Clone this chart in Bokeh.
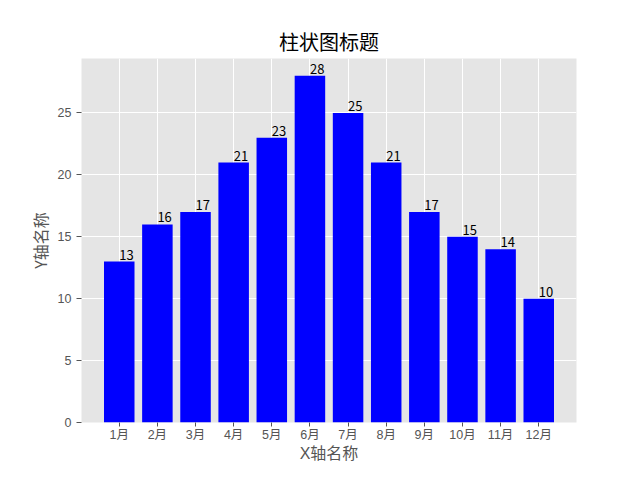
from bokeh.plotting import figure
from bokeh.models import Range1d, FixedTicker, ColumnDataSource
from bokeh.embed import file_html
from bokeh.resources import INLINE
from bokeh.core.properties import value

months = ["1月", "2月", "3月", "4月", "5月", "6月", "7月", "8月", "9月", "10月", "11月", "12月"]
counts = [13, 16, 17, 21, 23, 28, 25, 21, 17, 15, 14, 10]
y_ticks = [0, 5, 10, 15, 20, 25]

FONT = "Noto Sans CJK SC"
TIGHT = "'Liberation Sans', 'Noto Sans CJK SC'"
GRAY = "#555555"

xs = list(range(len(months)))
src = ColumnDataSource(dict(x=xs, top=counts, label=[str(c) for c in counts]))

n = len(months)
pad = (n - 1 + 0.8) * 0.05
ymax = max(counts) * 1.05
p = figure(width=624, height=464, output_backend="svg", toolbar_location=None,
           x_range=Range1d(-0.4 - pad, n - 1 + 0.4 + pad),
           y_range=Range1d(0, ymax),
           title="柱状图标题")
p.min_border_left = 81
p.min_border_right = 48
p.min_border_top = 58
p.min_border_bottom = 38

p.title.align = "center"
p.title.text_font = FONT
p.title.text_font_size = "20px"
p.title.text_font_style = "normal"
p.title.text_color = "black"
p.title.standoff = 5

p.background_fill_color = "#E5E5E5"
p.border_fill_color = "white"
p.outline_line_color = None

p.xaxis.ticker = FixedTicker(ticks=xs)
p.xaxis.major_label_overrides = {i: m for i, m in enumerate(months)}
p.yaxis.ticker = FixedTicker(ticks=y_ticks)

for ax in (p.xaxis, p.yaxis):
    ax.axis_line_color = None
    ax.major_tick_line_color = GRAY
    ax.major_tick_in = 0
    ax.major_tick_out = 4
    ax.minor_tick_line_color = None
    ax.major_label_text_color = GRAY
    ax.major_label_text_font = TIGHT
    ax.major_label_text_font_size = "12.5px"
    ax.major_label_text_line_height = 1.0
    ax.axis_label_text_color = GRAY
    ax.axis_label_text_font = TIGHT
    ax.axis_label_text_font_size = "16px"
    ax.axis_label_text_font_style = "normal"
    ax.axis_label_text_line_height = 1.0

p.xaxis.major_label_standoff = 1
p.xaxis.axis_label_standoff = 0
p.yaxis.major_tick_out = 5
p.yaxis.major_label_standoff = 5
p.yaxis.axis_label_standoff = 3
p.yaxis.axis_label_text_font = FONT
p.xaxis.axis_label = "X轴名称"
p.yaxis.axis_label = "Y轴名称"

p.grid.grid_line_color = "white"
p.grid.grid_line_width = 1

p.vbar(x="x", top="top", width=0.8, source=src, fill_color="blue", line_color=None)
p.text(x="x", y="top", text="label", source=src, text_align="left", text_baseline="bottom",
       y_offset=-2, text_font=value(FONT), text_font_size="13px", text_color="black")

open("out.html", "w").write(file_html(p, INLINE))
